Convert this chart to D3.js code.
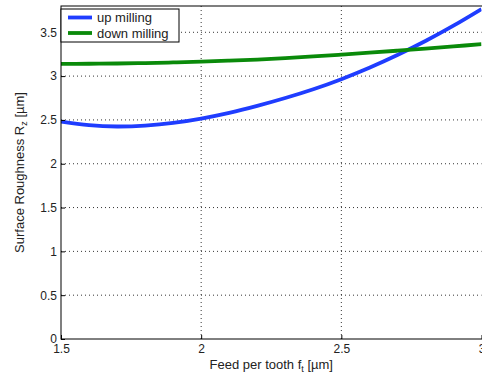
<!DOCTYPE html>
<html><head><meta charset="utf-8">
<script src="https://cdn.jsdelivr.net/npm/d3@7"></script>
<style>body{margin:0;background:#fff}svg{display:block}text{font-family:"Liberation Sans",Arial,sans-serif}</style>
</head><body><svg id="c" width="482" height="375"></svg>
<script>
const feed = [1.5,1.6,1.7,1.8,1.9,2.0,2.1,2.2,2.3,2.4,2.5,2.6,2.7,2.8,2.9,3.0];
const upMilling = [2.48,2.44,2.425,2.435,2.465,2.515,2.58,2.66,2.75,2.85,2.965,3.095,3.24,3.40,3.575,3.765];
const downMilling = [3.140,3.141,3.144,3.149,3.156,3.165,3.176,3.189,3.205,3.224,3.245,3.267,3.290,3.314,3.339,3.364];
const xTicks = [1.5,2,2.5,3];
const yTicks = [0,0.5,1,1.5,2,2.5,3,3.5];
const seriesNames = ["up milling","down milling"];
const colors = ["#1f3dff","#0a8a0a"];

const svg = d3.select("#c");
const L=61,R=481.5,T=6,B=339;
const x = d3.scaleLinear().domain([1.5,3]).range([L,R]);
const y = d3.scaleLinear().domain([0,3.8]).range([B,T]);
const defs = svg.append("defs");
defs.append("clipPath").attr("id","clip").append("rect").attr("x",L).attr("y",T).attr("width",R-L).attr("height",B-T);

// grid
const g = svg.append("g");
g.selectAll(".gx").data(xTicks.slice(1,-1)).join("line")
 .attr("x1",d=>x(d)).attr("x2",d=>x(d)).attr("y1",T).attr("y2",B)
 .attr("stroke","#000").attr("stroke-width",0.8).attr("stroke-dasharray","1,3");
g.selectAll(".gy").data(yTicks.slice(1)).join("line")
 .attr("x1",L).attr("x2",R).attr("y1",d=>y(d)).attr("y2",d=>y(d))
 .attr("stroke","#000").attr("stroke-width",0.8).attr("stroke-dasharray","1,3");

// lines
const line = d3.line().x((d,i)=>x(feed[i])).y(d=>y(d)).curve(d3.curveNatural);
const lg = svg.append("g").attr("clip-path","url(#clip)");
[upMilling,downMilling].forEach((s,i)=>{
  lg.append("path").datum(s).attr("d",line).attr("fill","none")
   .attr("stroke",colors[i]).attr("stroke-width",3.8);
});

// axes
const xAxis = d3.axisBottom(x).tickValues(xTicks).tickFormat(d3.format("")).tickSizeInner(-4).tickSizeOuter(0).tickPadding(5);
const yAxis = d3.axisLeft(y).tickValues(yTicks).tickFormat(d3.format("")).tickSizeInner(-4).tickSizeOuter(0).tickPadding(4);
const xa = svg.append("g").attr("transform",`translate(0,${B})`).call(xAxis);
const ya = svg.append("g").attr("transform",`translate(${L},0)`).call(yAxis);
[xa,ya].forEach(a=>{
  a.select(".domain").remove();
  a.selectAll("text").attr("font-size",12).attr("fill","#222").attr("font-family","Liberation Sans, Arial, sans-serif");
  a.selectAll("line").attr("stroke","#000");
});
// box
svg.append("rect").attr("x",L).attr("y",T).attr("width",R-L+2).attr("height",B-T)
 .attr("fill","none").attr("stroke","#000").attr("stroke-width",1);

// legend
const leg = svg.append("g");
leg.append("rect").attr("x",L).attr("y",T+3).attr("width",118).attr("height",33)
 .attr("fill","#fff").attr("stroke","#000").attr("stroke-width",1);
seriesNames.forEach((n,i)=>{
  const yy = T+11.5+i*15.5;
  leg.append("line").attr("x1",68).attr("x2",92).attr("y1",yy).attr("y2",yy)
   .attr("stroke",colors[i]).attr("stroke-width",3.8);
  leg.append("text").attr("x",97).attr("y",yy+4.5).attr("font-size",13).attr("fill","#222").text(n);
});

// labels
svg.append("text").attr("x",(L+R)/2).attr("y",369).attr("text-anchor","middle").attr("font-size",13).attr("fill","#222")
 .html('Feed per tooth f<tspan font-size="9" dy="3">t</tspan><tspan dy="-3"> [µm]</tspan>');
svg.append("text").attr("transform",`translate(24,${(T+B)/2}) rotate(-90)`).attr("text-anchor","middle").attr("font-size",13).attr("fill","#222")
 .html('Surface Roughness R<tspan font-size="9" dy="3">z</tspan><tspan dy="-3"> [µm]</tspan>');
</script></body></html>
